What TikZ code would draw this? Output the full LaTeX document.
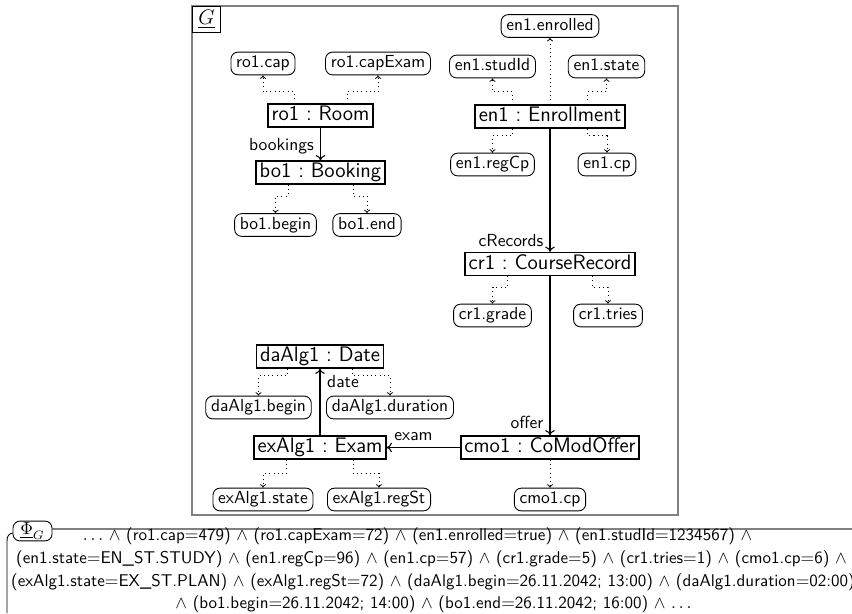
\documentclass[tikz,border=0pt]{standalone}
\usetikzlibrary{calc,arrows.meta}
% link from an object box to one of its attribute slots: vertical, horizontal, vertical;
% #6 is where the horizontal leg lies, as a fraction of the way to the slot
\newcommand\attrlink[6]{%
  \coordinate (#1-#4) at ($(#1.#2 west)!#3!(#1.#2 east)$);
  \draw[slot] (#1-#4) |- ($(#1-#4)!#6!(#4.#5)$) -| (#4.#5);}
\begin{document}
\sffamily
\begin{tikzpicture}[x=0.5714pt,y=-0.5714pt,
  obj/.style={draw,line width=0.9pt,font=\large,inner xsep=2pt,inner ysep=1pt,
    text height=8.6pt,text depth=2.4pt},
  attr/.style={draw,rounded corners=4pt,line width=0.5pt,inner xsep=3pt,inner ysep=2pt,
    text height=7pt,text depth=2pt},
  link/.style={-{To[length=3pt,width=5.5pt]},line width=0.6pt},
  slot/.style={dotted,line width=0.45pt,-{To[length=2pt,width=3.5pt]}},
  role/.style={inner sep=0pt,anchor=base},
  formula/.style={role,font=\fontsize{9.72pt}{12pt}\selectfont},
  frameline/.style={draw=gray,line width=1pt}]
\useasboundingbox (0,0) rectangle (852,613);

% frame of the graph G
\draw[frameline] (192,6) rectangle (678,515);
\node[draw,fill=white,line width=0.5pt,anchor=north west,minimum width=16pt,
  minimum height=14.9pt,inner sep=0pt,font=\large] (glabel) at (192,6) {$\underline{G}$};

% objects
\node[obj] (ro1) at (320.5,115.5) {ro1~:~Room};
\node[obj] (bo1) at (320.5,172.5) {bo1~:~Booking};
\node[obj] (en1) at (550,116.5) {en1~:~Enrollment};
\node[obj] (cr1) at (550,264) {cr1~:~CourseRecord};
\node[obj] (cmo1) at (550,447.5) {cmo1~:~CoModOffer};
\node[obj] (da) at (320,356.5) {daAlg1~:~Date};
\node[obj] (ex) at (320,447.5) {exAlg1~:~Exam};

% attribute slots
\node[attr] (ro1cap) at (263,63.5) {ro1.cap};
\node[attr] (ro1capExam) at (378,63.5) {ro1.capExam};
\node[attr] (bo1begin) at (275.5,225) {bo1.begin};
\node[attr] (bo1end) at (367,225) {bo1.end};
\node[attr] (en1enrolled) at (550,26) {en1.enrolled};
\node[attr] (en1studId) at (492.5,66.5) {en1.studId};
\node[attr] (en1state) at (606.5,66.5) {en1.state};
\node[attr] (en1regCp) at (492.5,164.5) {en1.regCp};
\node[attr] (en1cp) at (607,164.5) {en1.cp};
\node[attr] (cr1grade) at (492.5,315.5) {cr1.grade};
\node[attr] (cr1tries) at (608,315.5) {cr1.tries};
\node[attr] (cmo1cp) at (550,499.5) {cmo1.cp};
\node[attr] (dabegin) at (258.5,407.5) {daAlg1.begin};
\node[attr] (daduration) at (390,407.5) {daAlg1.duration};
\node[attr] (exstate) at (263,499.5) {exAlg1.state};
\node[attr] (exregSt) at (379,499.5) {exAlg1.regSt};

% slot links
\attrlink{ro1}{north}{0.25}{ro1cap}{south}{0.41}
\attrlink{ro1}{north}{0.75}{ro1capExam}{south}{0.41}
\attrlink{bo1}{south}{0.25}{bo1begin}{north}{0.4}
\attrlink{bo1}{south}{0.75}{bo1end}{north}{0.4}
\attrlink{en1}{north}{0.25}{en1studId}{south}{0.48}
\attrlink{en1}{north}{0.75}{en1state}{south}{0.48}
\attrlink{en1}{south}{0.25}{en1regCp}{north}{0.3}
\attrlink{en1}{south}{0.75}{en1cp}{north}{0.3}
\attrlink{cr1}{south}{0.25}{cr1grade}{north}{0.41}
\attrlink{cr1}{south}{0.75}{cr1tries}{north}{0.41}
\attrlink{da}{south}{0.25}{dabegin}{north}{0.25}
\attrlink{da}{south}{0.75}{daduration}{north}{0.25}
\attrlink{ex}{south}{0.25}{exstate}{north}{0.48}
\attrlink{ex}{south}{0.75}{exregSt}{north}{0.48}
\draw[slot] (en1) -- (en1enrolled);
\draw[slot] (cmo1) -- (cmo1cp);

% references between objects
\draw[link] (ro1) -- (bo1);
\draw[link] (en1) -- (cr1);
\draw[link] (cr1) -- (cmo1);
\draw[link] (cmo1) -- (ex);
\draw[link] (ex) -- (da);
\node[role] (lbookings) at (281.5,150.5) {bookings};
\node[role] (lcrecords) at (511,246) {cRecords};
\node[role] (loffer) at (527,428) {offer};
\node[role] (ldate) at (343,387) {date};
\node[role] (lexam) at (413.5,440) {exam};

% formula Phi_G
\draw[line width=0.5pt] (14,533) .. controls (9,533) and (7,536) .. (7,541) -- (7,613);
\draw[frameline] (40,529) -- (852,529);
\node[draw,fill=white,rounded corners=4pt,line width=0.5pt,minimum width=22.3pt,
  minimum height=9.2pt,inner sep=1pt] (phi) at (32.5,531) {$\underline{\Phi}_G$};
\node[formula] (f1) at (417.5,540) {$\ldots$ $\wedge$ (ro1.cap$=$479) $\wedge$ (ro1.capExam$=$72) $\wedge$ (en1.enrolled$=$true) $\wedge$ (en1.studId$=$1234567) $\wedge$};
\node[formula] (f2) at (431.5,563) {(en1.state$=$EN\_ST.STUDY) $\wedge$ (en1.regCp$=$96) $\wedge$ (en1.cp$=$57) $\wedge$ (cr1.grade$=$5) $\wedge$ (cr1.tries$=$1) $\wedge$ (cmo1.cp$=$6) $\wedge$};
\node[formula] (f3) at (433,586) {(exAlg1.state$=$EX\_ST.PLAN) $\wedge$ (exAlg1.regSt$=$72) $\wedge$ (daAlg1.begin$=$26.11.2042; 13:00) $\wedge$ (daAlg1.duration$=$02:00)};
\node[formula] (f4) at (433.5,608) {$\wedge$ (bo1.begin$=$26.11.2042; 14:00) $\wedge$ (bo1.end$=$26.11.2042; 16:00) $\wedge$ $\ldots$};
\end{tikzpicture}
\end{document}
